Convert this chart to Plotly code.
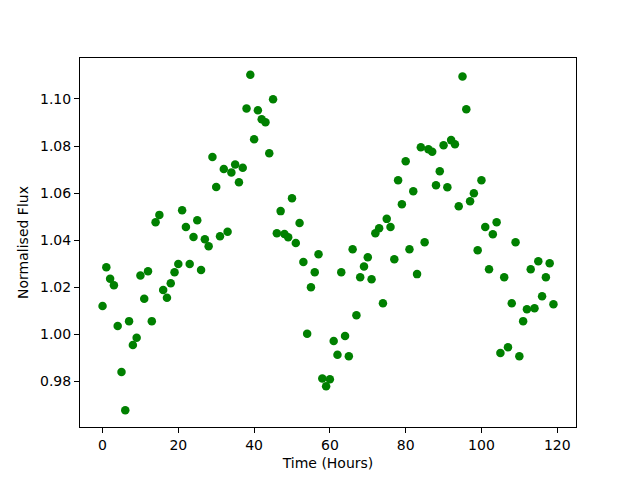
import plotly.graph_objects as go

time_hours = list(range(120))
flux = [
    1.0119, 1.0284, 1.0235, 1.0208, 1.0034, 0.9839, 0.9676, 1.0055, 0.9953, 0.9984,
    1.0249, 1.0150, 1.0267, 1.0055, 1.0476, 1.0507, 1.0187, 1.0154, 1.0216, 1.0263,
    1.0298, 1.0527, 1.0455, 1.0298, 1.0413, 1.0484, 1.0273, 1.0403, 1.0374, 1.0753,
    1.0626, 1.0416, 1.0702, 1.0435, 1.0687, 1.0721, 1.0646, 1.0707, 1.0960, 1.1103,
    1.0829, 1.0952, 1.0914, 1.0901, 1.0769, 1.0999, 1.0429, 1.0523, 1.0426, 1.0412,
    1.0578, 1.0387, 1.0472, 1.0307, 1.0001, 1.0199, 1.0263, 1.0340, 0.9811, 0.9778,
    0.9808, 0.9970, 0.9912, 1.0263, 0.9992, 0.9906, 1.0361, 1.0080, 1.0242, 1.0287,
    1.0327, 1.0233, 1.0429, 1.0450, 1.0131, 1.0490, 1.0455, 1.0318, 1.0654, 1.0552,
    1.0735, 1.0361, 1.0608, 1.0255, 1.0795, 1.0391, 1.0786, 1.0776, 1.0633, 1.0693,
    1.0803, 1.0625, 1.0825, 1.0807, 1.0544, 1.1096, 1.0956, 1.0565, 1.0599, 1.0357,
    1.0654, 1.0455, 1.0276, 1.0425, 1.0476, 0.9919, 1.0242, 0.9944, 1.0131, 1.0391,
    0.9906, 1.0055, 1.0106, 1.0276, 1.0110, 1.0310, 1.0161, 1.0242, 1.0301, 1.0127,
]
x_ticks = [0, 20, 40, 60, 80, 100, 120]
y_ticks = [0.98, 1.00, 1.02, 1.04, 1.06, 1.08, 1.10]

xmin, xmax = min(time_hours), max(time_hours)
ymin, ymax = min(flux), max(flux)
xpad = 0.05 * (xmax - xmin)
ypad = 0.05 * (ymax - ymin)

fig = go.Figure()
fig.add_trace(go.Scatter(
    x=time_hours, y=flux, mode="markers",
    marker=dict(color="#008000", size=8.5, line=dict(width=0)),
    showlegend=False,
))

axis_common = dict(
    showline=True, linecolor="black", linewidth=1, mirror=True,
    showgrid=False, zeroline=False,
    ticks="outside", ticklen=5, tickwidth=1, tickcolor="black",
    tickfont=dict(family="DejaVu Sans", size=14, color="black"),
)

fig.update_layout(
    width=640, height=480,
    margin=dict(l=72, r=72, t=50, b=61),
    paper_bgcolor="white", plot_bgcolor="white",
    font=dict(family="DejaVu Sans", size=14, color="black"),
    xaxis=dict(
        range=[xmin - xpad, xmax + xpad],
        tickvals=x_ticks, ticktext=[str(v) for v in x_ticks],
        title=dict(text="Time (Hours)", font=dict(size=14), standoff=6),
        **axis_common,
    ),
    yaxis=dict(
        range=[ymin - ypad, ymax + ypad],
        tickvals=y_ticks, ticktext=[f"{v:.2f}" for v in y_ticks],
        title=dict(text="Normalised Flux", font=dict(size=14), standoff=8),
        **axis_common,
    ),
)

fig.write_html("out.html")
